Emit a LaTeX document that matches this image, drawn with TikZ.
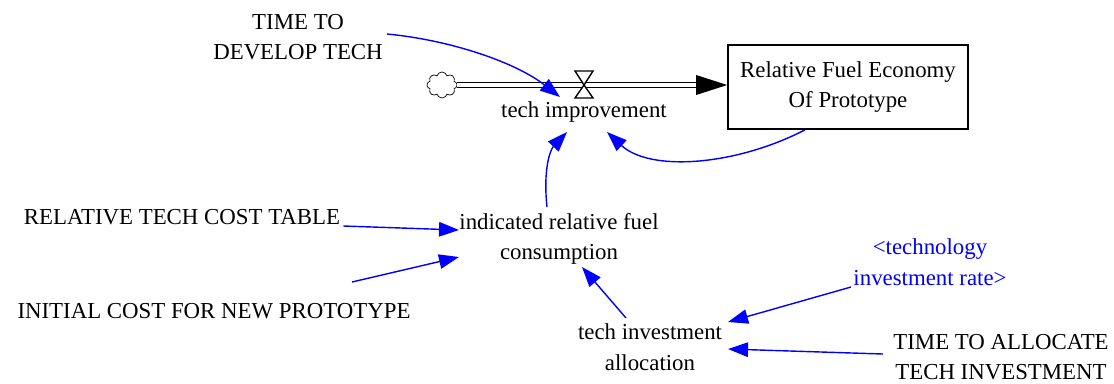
\documentclass[tikz,border=0pt]{standalone}
\usepackage{fontspec}
\setmainfont{Liberation Serif}
\usetikzlibrary{shapes.symbols,arrows.meta}

\begin{document}
\begin{tikzpicture}[x=0.02cm,y=-0.02cm,font=\fontsize{13}{17.4}\selectfont,
    var/.style={align=center,inner sep=0pt},
    link/.style={blue,line width=0.8pt,-{Triangle[length=0.4cm,width=0.29cm]}}]
            \useasboundingbox (0,0) rectangle (1114,383);
            \node [var] (tdt) at (298, 37) {TIME TO\\DEVELOP TECH};%
            \node [draw,cloud,cloud puffs=8,aspect=1.2,minimum width=0.6cm,minimum height=0.52cm,inner sep=0pt,line width=0.4pt] (src) at (442, 85) {};%
            \coordinate (valve) at (584, 85);
            \node [var] (ti) at (584, 112) {tech improvement};%
            \node [draw,line width=1pt,minimum width=4.8cm,minimum height=1.68cm,align=center,inner sep=0pt] (rfe) at (848, 87) {Relative Fuel Economy\\Of Prototype};%
            \node [var] (rtct) at (182, 217) {RELATIVE TECH COST TABLE};%
            \node [var] (icnp) at (214, 311) {INITIAL COST FOR NEW PROTOTYPE};%
            \node [var] (irfc) at (559, 239) {indicated relative fuel\\consumption};%
            \node [var] (tia) at (650, 347) {tech investment\\allocation};%
            \node [var,blue] (tir) at (930, 262) {<technology\\investment rate>};%
            \node [var] (ttati) at (1001, 357) {TIME TO ALLOCATE\\TECH INVESTMENT};%
            \draw [double,double distance=0.08cm,line width=0.8pt] (src.east) to ([shift={(-31,-2)}]rfe.west);
            \fill ([shift={(-31,-12)}]rfe.west) -- ([shift={(0,-2)}]rfe.west) -- ([shift={(-31,8)}]rfe.west) -- cycle;
            \draw [fill=white,line width=0.8pt] (valve) -- ++(-9,-14) -- ++(18,0) -- cycle (valve) -- ++(-9,13) -- ++(18,0) -- cycle;
            \draw [link] ([shift={(4,-3)}]tdt.east) .. controls +(63,6) and +(-45,-35) .. ([shift={(-24,-15)}]ti.center);
            \draw [link] ([shift={(-43,0)}]rfe.south) .. controls +(-70,36) and +(43,40) .. ([shift={(23,20)}]ti.center);
            \draw [link] ([shift={(-12,-32)}]irfc.center) .. controls +(-4,-37) and +(-17,18) .. ([shift={(-17,20)}]ti.center);
            \draw [link] ([shift={(3,9)}]rtct.east) to ([shift={(-100,-9)}]irfc.center);
            \draw [link] ([shift={(138,-29)}]icnp.center) to ([shift={(-100,18)}]irfc.center);
            \draw [link] ([shift={(-24,-29)}]tia.center) to ([shift={(23,28)}]irfc.center);
            \draw [link] ([shift={(-79,25)}]tir.center) to ([shift={(78,-25)}]tia.center);
            \draw [link] ([shift={(-118,-3)}]ttati.center) to ([shift={(78,2)}]tia.center);
        \end{tikzpicture}
\end{document}
